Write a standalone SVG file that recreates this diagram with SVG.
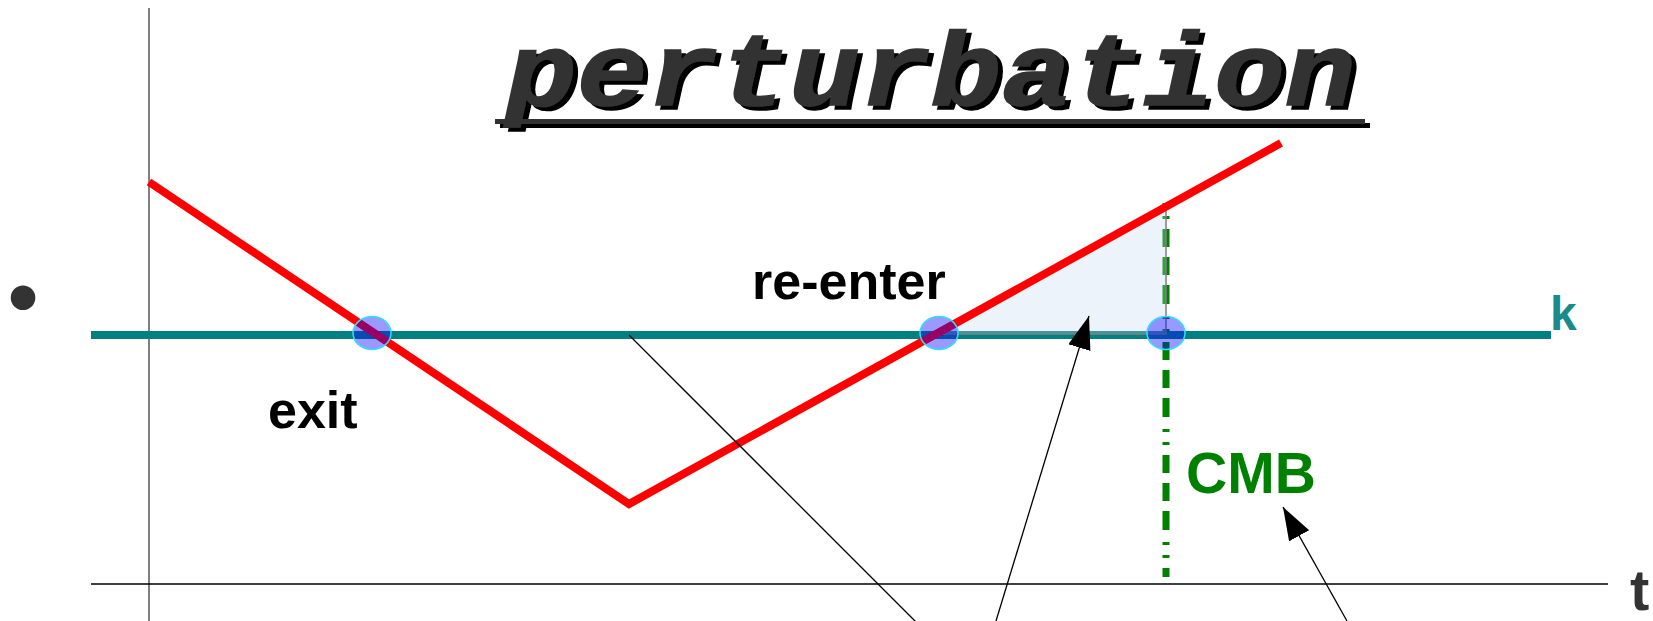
<svg xmlns="http://www.w3.org/2000/svg" width="1653" height="621" viewBox="0 0 1653 621">
<style>
.lbl{font-family:"Liberation Sans",Arial,sans-serif;font-weight:bold}
.title{font-family:"Liberation Mono","Courier New",monospace;font-weight:bold;font-style:italic;font-size:118px}
.cross{fill:#0000ff;fill-opacity:0.4;stroke:#33ddff;stroke-width:1.5}
.conn{stroke:#000;stroke-width:1.3;fill:none}
</style>
<defs>
<marker id="ah" markerUnits="userSpaceOnUse" markerWidth="34" markerHeight="24" refX="33" refY="11.5" orient="auto">
<path d="M0,0 L33,11.5 L0,23 z" fill="#000"/>
</marker>
<filter id="shadow" x="-5%" y="-20%" width="110%" height="140%">
<feDropShadow dx="5" dy="4" stdDeviation="0" flood-color="#000" flood-opacity="1"/>
</filter>
</defs>
<rect width="1653" height="621" fill="#fff"/>
<g id="bullet"><text class="lbl" x="8" y="326" font-size="86" fill="#333">•</text></g>
<g id="title" filter="url(#shadow)">
<rect x="495" y="119" width="870" height="5" fill="#333"/>
<text class="title" transform="translate(506,105) scale(1,0.88)" x="0" y="0" fill="#333" stroke="#333" stroke-width="1.5">perturbation</text>
</g>
<g id="axes">
<line x1="149" y1="8" x2="149" y2="621" stroke="#808080" stroke-width="2"/>
<line x1="91" y1="584" x2="1608" y2="584" stroke="#000" stroke-width="1.6"/>
<text class="lbl" x="1630" y="610" font-size="58" fill="#333">t</text>
</g>
<g id="k-line">
<line x1="91" y1="335" x2="1551" y2="335" stroke="#008080" stroke-width="8"/>
<text class="lbl" x="1550" y="330" font-size="48" fill="#1a8a8a">k</text>
</g>
<g id="cmb-line">
<line x1="1166" y1="203" x2="1166" y2="577" stroke="#008000" stroke-width="7" stroke-dasharray="3,10,3,10,18,10,18,10,19,12"/>
</g>
<g id="triangle">
<polygon points="943,334 1166,205 1166,334" fill="#bfd7ee" fill-opacity="0.3" stroke="#808080" stroke-width="1.5"/>
</g>
<g id="red-path">
<polyline points="149,182 629,504 1281,143" fill="none" stroke="#ff0000" stroke-width="8" stroke-linejoin="miter"/>
</g>
<g id="crossings">
<ellipse id="exit-pt" class="cross" cx="372" cy="333" rx="19" ry="16.5"/>
<ellipse id="reenter-pt" class="cross" cx="939" cy="333" rx="19" ry="16.5"/>
<ellipse id="cmb-pt" class="cross" cx="1166" cy="333" rx="19" ry="16.5"/>
</g>
<g id="labels">
<text class="lbl" x="268" y="428" font-size="52" fill="#000">exit</text>
<text class="lbl" x="752" y="299" font-size="52" fill="#000">re-enter</text>
<text class="lbl" x="1186" y="493" font-size="57" fill="#008000">CMB</text>
</g>
<g id="connectors">
<line class="conn" x1="629" y1="335" x2="921" y2="627"/>
<line class="conn" x1="996" y1="621" x2="1089" y2="316" marker-end="url(#ah)"/>
<line class="conn" x1="1347" y1="621" x2="1283" y2="507" marker-end="url(#ah)"/>
</g>
</svg>
